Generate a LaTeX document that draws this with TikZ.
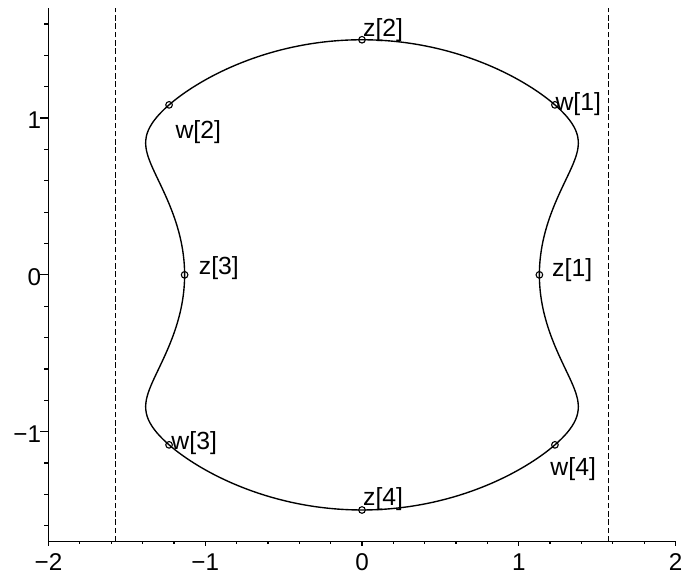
\documentclass[tikz,border=0pt]{standalone}
\usepackage{fontspec}
\setmainfont{Liberation Sans}

\begin{document}
\begin{tikzpicture}[
  x=2cm, y=2cm,
  declare function={
    uu(\v)=sinh(\v)^2;
    ss(\v)=2*sinh(1.5+\v)*sinh(1.5-\v)*(4.53383+5.53383*uu(\v))/(5.53383*(2*uu(\v)+3.71453+1.92731*sqrt(3.71453+4+8*uu(\v))));
    xx(\v)=rad(asin(sqrt(max(ss(\v),0))));
  },
  axis/.style={line width=0.5pt},
  tick/.style={line width=0.45pt},
  curve/.style={line width=0.5pt},
  asym/.style={line width=0.4pt,dash pattern=on 2pt off 1pt},
  dot/.style={circle,draw,line width=0.4pt,inner sep=0pt,minimum size=2.4pt},
  lbl/.style={anchor=base west,inner sep=0pt,font=\fontsize{9}{10}\selectfont},
  ticklbl/.style={inner sep=0pt,font=\fontsize{8.8}{10}\selectfont}
]
  \useasboundingbox (-2.3094,-1.9217) rectangle (2.0606,1.7535);

  % axes
  \coordinate (o) at (-2,-1.7);
  \coordinate (xend) at (2,-1.7);
  \coordinate (yend) at (-2,1.7);
  \draw[axis] (yend) -- (o) -- (xend);
  \foreach \k in {0,...,20}
    \draw[tick] ({-2+0.2*\k},-1.7) -- ++(0,-1.1pt);
  \foreach \k/\t in {-2/{−2},-1/{−1},0/0,1/1,2/2} {
    \draw[tick] (\k,-1.7) -- ++(0,-1.7pt);
    \node[ticklbl,anchor=north] (xl\k) at (\k,-1.7) [yshift=-4.3pt] {\t};
  }
  \foreach \k in {-8,...,8}
    \draw[tick] (-2,{0.2*\k}) -- ++(-1.5pt,0);
  \foreach \k/\t in {-1/{−1},0/0,1/1} {
    \draw[tick] (-2,\k) -- ++(-3pt,0);
    \node[ticklbl,anchor=east] (yl\k) at (-2,\k) [xshift=-2.5pt,yshift=-0.9pt] {\t};
  }

  % strip boundaries
  \coordinate (lbot) at ({-pi/2},-1.7);
  \coordinate (ltop) at ({-pi/2},1.7);
  \coordinate (rbot) at ({pi/2},-1.7);
  \coordinate (rtop) at ({pi/2},1.7);
  \draw[asym] (lbot) -- (ltop);
  \draw[asym] (rbot) -- (rtop);

  % closed curve
  \draw[curve] plot[domain=-90:270,samples=361,variable=\t]
    ({sign(cos(\t))*xx(1.5*sin(\t))},{1.5*sin(\t)}) -- cycle;

  % marked points
  \node[dot] (z1) at ({xx(0)},0) {};
  \node[dot] (z2) at (0,1.5) {};
  \node[dot] (z3) at ({-xx(0)},0) {};
  \node[dot] (z4) at (0,-1.5) {};
  \node[dot] (w1) at ({xx(1.0845)},1.0845) {};
  \node[dot] (w2) at ({-xx(1.0845)},1.0845) {};
  \node[dot] (w3) at ({-xx(-1.0845)},-1.0845) {};
  \node[dot] (w4) at ({xx(-1.0845)},-1.0845) {};

  \node[lbl] (lz1) at (1.210,-0.009) {z[1]};
  \node[lbl] (lz2) at (0.004,1.520) {z[2]};
  \node[lbl] (lz3) at (-1.044,0.002) {z[3]};
  \node[lbl] (lz4) at (0.004,-1.469) {z[4]};
  \node[lbl] (lw1) at (1.231,1.047) {w[1]};
  \node[lbl] (lw2) at (-1.193,0.873) {w[2]};
  \node[lbl] (lw3) at (-1.219,-1.113) {w[3]};
  \node[lbl] (lw4) at (1.199,-1.283) {w[4]};
\end{tikzpicture}
\end{document}
